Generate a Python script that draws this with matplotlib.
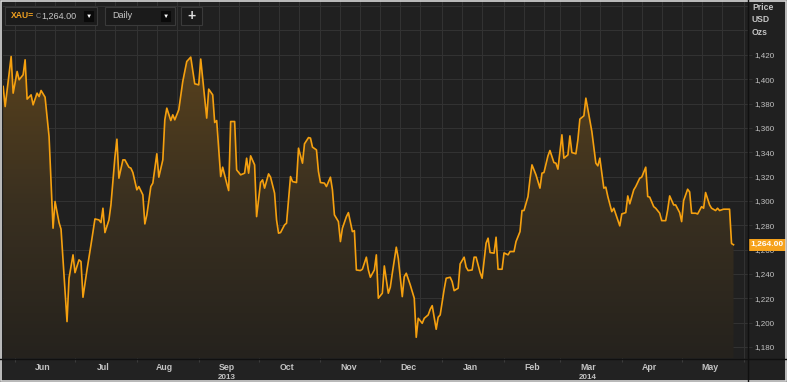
import numpy as np
import pandas as pd
import matplotlib
matplotlib.use("Agg")
import matplotlib.pyplot as plt
import matplotlib.dates as mdates
from matplotlib.colors import LinearSegmentedColormap
from matplotlib.patches import Rectangle

plt.rcParams['font.family'] = ['Liberation Sans', 'DejaVu Sans']

# ------------------------------------------------------------------
# data: XAU= daily close (USD / oz)
# ------------------------------------------------------------------
dates = [
    "2013-05-26", "2013-05-27", "2013-05-30", "2013-05-31", "2013-06-02", "2013-06-03",
    "2013-06-05", "2013-06-06", "2013-06-07", "2013-06-09", "2013-06-10", "2013-06-12",
    "2013-06-13", "2013-06-14", "2013-06-16", "2013-06-18", "2013-06-20", "2013-06-21",
    "2013-06-23", "2013-06-24", "2013-06-27", "2013-06-28", "2013-06-30", "2013-07-01",
    "2013-07-03", "2013-07-04", "2013-07-05", "2013-07-07", "2013-07-09", "2013-07-11",
    "2013-07-13", "2013-07-14", "2013-07-15", "2013-07-16", "2013-07-18", "2013-07-19",
    "2013-07-21", "2013-07-22", "2013-07-23", "2013-07-25", "2013-07-26", "2013-07-28",
    "2013-07-29", "2013-07-30", "2013-08-01", "2013-08-02", "2013-08-04", "2013-08-05",
    "2013-08-06", "2013-08-08", "2013-08-09", "2013-08-11", "2013-08-12", "2013-08-14",
    "2013-08-15", "2013-08-16", "2013-08-18", "2013-08-19", "2013-08-20", "2013-08-22",
    "2013-08-24", "2013-08-26", "2013-08-28", "2013-08-30", "2013-09-01", "2013-09-02",
    "2013-09-05", "2013-09-06", "2013-09-08", "2013-09-09", "2013-09-10", "2013-09-12",
    "2013-09-13", "2013-09-15", "2013-09-16", "2013-09-17", "2013-09-19", "2013-09-20",
    "2013-09-22", "2013-09-24", "2013-09-25", "2013-09-26", "2013-09-27", "2013-09-29",
    "2013-09-30", "2013-10-02", "2013-10-03", "2013-10-04", "2013-10-06", "2013-10-07",
    "2013-10-09", "2013-10-10", "2013-10-11", "2013-10-12", "2013-10-14", "2013-10-15",
    "2013-10-17", "2013-10-18", "2013-10-20", "2013-10-21", "2013-10-23", "2013-10-24",
    "2013-10-26", "2013-10-27", "2013-10-28", "2013-10-30", "2013-10-31", "2013-11-01",
    "2013-11-03", "2013-11-04", "2013-11-06", "2013-11-07", "2013-11-08", "2013-11-10",
    "2013-11-11", "2013-11-12", "2013-11-14", "2013-11-15", "2013-11-17", "2013-11-18",
    "2013-11-19", "2013-11-21", "2013-11-22", "2013-11-24", "2013-11-25", "2013-11-26",
    "2013-11-28", "2013-11-29", "2013-11-30", "2013-12-02", "2013-12-03", "2013-12-05",
    "2013-12-06", "2013-12-07", "2013-12-09", "2013-12-10", "2013-12-12", "2013-12-13",
    "2013-12-14", "2013-12-16", "2013-12-18", "2013-12-19", "2013-12-20", "2013-12-22",
    "2013-12-23", "2013-12-25", "2013-12-26", "2013-12-27", "2013-12-29", "2013-12-30",
    "2013-12-31", "2014-01-02", "2014-01-03", "2014-01-05", "2014-01-06", "2014-01-07",
    "2014-01-09", "2014-01-10", "2014-01-12", "2014-01-13", "2014-01-14", "2014-01-16",
    "2014-01-17", "2014-01-18", "2014-01-20", "2014-01-21", "2014-01-23", "2014-01-24",
    "2014-01-25", "2014-01-27", "2014-01-28", "2014-01-29", "2014-01-31", "2014-02-01",
    "2014-02-03", "2014-02-04", "2014-02-06", "2014-02-07", "2014-02-09", "2014-02-10",
    "2014-02-11", "2014-02-13", "2014-02-14", "2014-02-15", "2014-02-17", "2014-02-19",
    "2014-02-20", "2014-02-21", "2014-02-23", "2014-02-24", "2014-02-26", "2014-02-27",
    "2014-02-28", "2014-03-02", "2014-03-03", "2014-03-05", "2014-03-06", "2014-03-07",
    "2014-03-09", "2014-03-10", "2014-03-11", "2014-03-13", "2014-03-14", "2014-03-17",
    "2014-03-19", "2014-03-20", "2014-03-21", "2014-03-23", "2014-03-24", "2014-03-25",
    "2014-03-27", "2014-03-28", "2014-03-30", "2014-03-31", "2014-04-01", "2014-04-03",
    "2014-04-04", "2014-04-05", "2014-04-07", "2014-04-08", "2014-04-10", "2014-04-11",
    "2014-04-13", "2014-04-14", "2014-04-15", "2014-04-17", "2014-04-18", "2014-04-20",
    "2014-04-21", "2014-04-23", "2014-04-24", "2014-04-25", "2014-04-27", "2014-04-28",
    "2014-04-30", "2014-05-01", "2014-05-02", "2014-05-04", "2014-05-05", "2014-05-06",
    "2014-05-08", "2014-05-09", "2014-05-11", "2014-05-12", "2014-05-13", "2014-05-15",
    "2014-05-16", "2014-05-18", "2014-05-19", "2014-05-20", "2014-05-22", "2014-05-23",
    "2014-05-25", "2014-05-26", "2014-05-27",
]
prices = [
    1394, 1377.5, 1418.6, 1388.5, 1406.3, 1399.5,
    1403.6, 1415.9, 1383.6, 1387.1, 1378.9, 1388.5,
    1385.7, 1390.7, 1385.2, 1352.9, 1277.6, 1299.5,
    1282.2, 1276.8, 1200.9, 1236.5, 1255.7, 1241.1,
    1251.6, 1250.2, 1220.9, 1243.3, 1263.9, 1285.2,
    1284.4, 1282.2, 1294, 1274, 1284.4, 1296.7,
    1335.9, 1350.7, 1318.7, 1333.7, 1333.7, 1327.7,
    1326.9, 1323.3, 1309.1, 1311.8, 1305, 1281.1,
    1288.5, 1311.8, 1314.6, 1338.7, 1319.5, 1333.7,
    1366.6, 1376.2, 1366, 1370.7, 1366.6, 1374.8,
    1398.1, 1414.5, 1418.1, 1396.2, 1395.3, 1416.5,
    1368, 1391.8, 1387.1, 1364.4, 1366, 1320,
    1327.7, 1314.6, 1308.5, 1365.2, 1365.2, 1325.5,
    1321.4, 1322.8, 1335.1, 1322.8, 1337, 1329.6,
    1287.1, 1315.2, 1317.3, 1310.5, 1322.2, 1319.5,
    1306.4, 1284.4, 1273.5, 1274, 1280.3, 1281.7,
    1320, 1315.9, 1315.1, 1343.3, 1331, 1346.9,
    1352, 1351.6, 1344.2, 1341.9, 1324.1, 1315.1,
    1314.6, 1311.8, 1319.5, 1309.1, 1288.5, 1283,
    1266.6, 1277.6, 1287.1, 1290.4, 1274.8, 1275.6,
    1243.3, 1242.8, 1243.9, 1253.8, 1243.3, 1237.3,
    1243.3, 1255.7, 1220.1, 1224.2, 1246.6, 1224.2,
    1229.1, 1240.6, 1262, 1252.9, 1221.4, 1237.8,
    1240.6, 1231, 1220.1, 1188, 1203.6, 1199.5,
    1203.6, 1206.4, 1211, 1214, 1194.6, 1204.5,
    1206.4, 1227.5, 1236.5, 1237.3, 1233.7, 1226.3,
    1228.3, 1248.3, 1253.8, 1245.6, 1242.8, 1243.3,
    1253.8, 1253.8, 1241.1, 1236.5, 1265.3, 1269.4,
    1257.6, 1257.1, 1270.2, 1243.9, 1243.9, 1257.3,
    1255.7, 1258.4, 1258.4, 1266.6, 1274.8, 1292.1,
    1292.1, 1303.6, 1317.9, 1329.6, 1321.4, 1310.5,
    1322.8, 1323.3, 1337, 1341.4, 1331.5, 1331,
    1326.1, 1354.3, 1335.1, 1337.8, 1353.4, 1339.7,
    1338.7, 1350.2, 1367.2, 1369.9, 1384.4, 1357,
    1331, 1328.8, 1335.1, 1310.5, 1311.3, 1303.6,
    1291.2, 1294, 1284.4, 1279.5, 1289.3, 1290.4,
    1304.1, 1297.6, 1309.1, 1311.8, 1318.7, 1319.5,
    1327.7, 1303.6, 1303.1, 1295.3, 1294, 1289.9,
    1283.8, 1283.8, 1292.6, 1304.1, 1296.7, 1296.7,
    1290.4, 1283, 1300.3, 1309.6, 1307.4, 1289.9,
    1289.9, 1289.3, 1295.3, 1294, 1306.9, 1296.7,
    1294, 1292.1, 1294, 1292.1, 1293.2, 1293.2,
    1293.2, 1265, 1264,
]
last_price = "1,264.00"
months = ["Jun", "Jul", "Aug", "Sep", "Oct", "Nov", "Dec", "Jan", "Feb", "Mar", "Apr", "May"]
years = [("2013", "2013-09-15"), ("2014", "2014-03-15")]
price_ticks = list(range(1180, 1421, 20))

x = pd.to_datetime(dates)
y = np.array(prices)

BG = "#202020"
GRID = "#323232"
LINE = "#f5a00f"
TXT = "#c4c4c4"

W, H = 787, 382
fig = plt.figure(figsize=(W / 100, H / 100), dpi=100, facecolor=BG)

def fx(px):
    return px / W

def fy(py):
    return 1 - py / H

x_lo = pd.Timestamp("2013-05-25 22:00")
x_hi = pd.Timestamp("2014-06-03 06:00")
y_lo, y_hi = 1171, 1465

# ------------------------------------------------------------------
# main price panel
# ------------------------------------------------------------------
ax = fig.add_axes([fx(3), fy(358), fx(745), 358 / H])
ax.set_facecolor(BG)

poly = ax.fill_between(x, y, y_lo, facecolor="none", edgecolor="none")
cmap = LinearSegmentedColormap.from_list("gold", ["#25221d", "#3a3020", "#5a421c"])
grad = np.linspace(0, 1, 256).reshape(-1, 1)
im = ax.imshow(grad, cmap=cmap, aspect="auto", origin="lower",
               extent=[mdates.date2num(x_lo), mdates.date2num(x_hi), y_lo, 1425],
               zorder=1)
im.set_clip_path(poly.get_paths()[0], transform=ax.transData)

ax.plot(x, y, color=LINE, lw=1.2, zorder=3, solid_joinstyle="round")

ax.set_xlim(x_lo, x_hi)
ax.set_ylim(y_lo, y_hi)

# grid: 1st / 11th / 21st of each month, every 20 USD
ax.xaxis.set_major_locator(mdates.DayLocator(bymonthday=[1, 11, 21]))
ax.set_yticks(price_ticks)
ax.set_yticklabels([f"{p:,}" for p in price_ticks])
ax.grid(True, color=GRID, lw=0.8, zorder=0)
for extra in (1440, 1460):
    ax.axhline(extra, color=GRID, lw=0.8, zorder=0)
ax.set_axisbelow(True)

ax.yaxis.tick_right()
ax.tick_params(axis="y", colors=GRID, length=3, width=0.8, pad=1.5,
               labelcolor=TXT, labelsize=5.8)
ax.tick_params(axis="x", length=0, labelbottom=False)
for s in ax.spines.values():
    s.set_visible(False)

# last price badge
ax.annotate(last_price, xy=(1.0, y[-1]), xycoords=("axes fraction", "data"),
            xytext=(2, 0), textcoords="offset points", ha="left", va="center",
            fontsize=6, fontweight="bold", color="white", zorder=5,
            bbox=dict(boxstyle="square,pad=0.3", fc="#f6a21c", ec="none"),
            annotation_clip=False)

# ------------------------------------------------------------------
# time axis band
# ------------------------------------------------------------------
ax2 = fig.add_axes([fx(3), fy(381), fx(745), 23 / H])
ax2.set_facecolor("#222222")
ax2.set_xlim(x_lo, x_hi)
ax2.set_ylim(0, 1)
ax2.set_yticks([])
ax2.xaxis.set_major_locator(mdates.MonthLocator())
ax2.tick_params(axis="x", top=True, bottom=False, direction="in", length=3,
                color="#3c3c3c", labelbottom=False)
for s in ax2.spines.values():
    s.set_visible(False)

mid_months = pd.date_range("2013-06-01", periods=len(months), freq="MS") + pd.Timedelta(days=14)
for m, d in zip(months, mid_months):
    ax2.text(d, 0.58, m, ha="center", va="center", fontsize=6.3, fontweight="bold", color=TXT)
for yr, d in years:
    ax2.text(pd.Timestamp(d), 0.15, yr, ha="center", va="center", fontsize=5.8,
             fontweight="bold", color=TXT)

# panel separators
fig.add_artist(plt.Line2D([fx(748), fx(748)], [0, 1], color="#101010", lw=1))
fig.add_artist(plt.Line2D([0, 1], [fy(358.5), fy(358.5)], color="#101010", lw=1))

# axis caption top right
for i, t in enumerate(["Price", "USD", "Ozs"]):
    fig.text(fx(752), fy(7.5 + i * 12.5), t, ha="left", va="center", fontsize=6.2,
             fontweight="bold", color=TXT)

# ------------------------------------------------------------------
# toolbar overlay
# ------------------------------------------------------------------
def box(x0, y0, x1, y1, fc="#1b1b1b", ec="#3a3a3a"):
    fig.add_artist(Rectangle((fx(x0), fy(y1)), fx(x1 - x0), (y1 - y0) / H,
                             transform=fig.transFigure, fc=fc, ec=ec, lw=0.8))

box(5, 7, 97, 25)
fig.text(fx(11), fy(16), "XAU=", fontsize=6.2, fontweight="bold", color="#f0a020", va="center")
fig.text(fx(35.5), fy(16), "C", fontsize=5.2, color="#8a8a8a", va="center")
fig.text(fx(41), fy(16), "1,264.00", fontsize=6.5, color="#c8c8c8", va="center")
box(84, 11, 93, 21, fc="#0a0a0a", ec="#0a0a0a")
fig.text(fx(88.5), fy(16), "\u25BC", fontsize=4.5, color="white", ha="center", va="center")

box(105, 7, 175, 25)
fig.text(fx(112), fy(16), "Daily", fontsize=6.5, color="#c8c8c8", va="center")
box(161, 11, 170, 21, fc="#0a0a0a", ec="#0a0a0a")
fig.text(fx(165.5), fy(16), "\u25BC", fontsize=4.5, color="white", ha="center", va="center")

box(181, 7, 202, 25)
fig.text(fx(191.5), fy(16), "+", fontsize=10, fontweight="bold", color="#e0e0e0",
         ha="center", va="center")

# outer frame
fig.add_artist(Rectangle((0.001, 0.002), 0.998, 0.996, transform=fig.transFigure,
                         fc="none", ec="#d8d8d8", lw=1.2))

fig.savefig("out.png", dpi=100, facecolor=BG)
